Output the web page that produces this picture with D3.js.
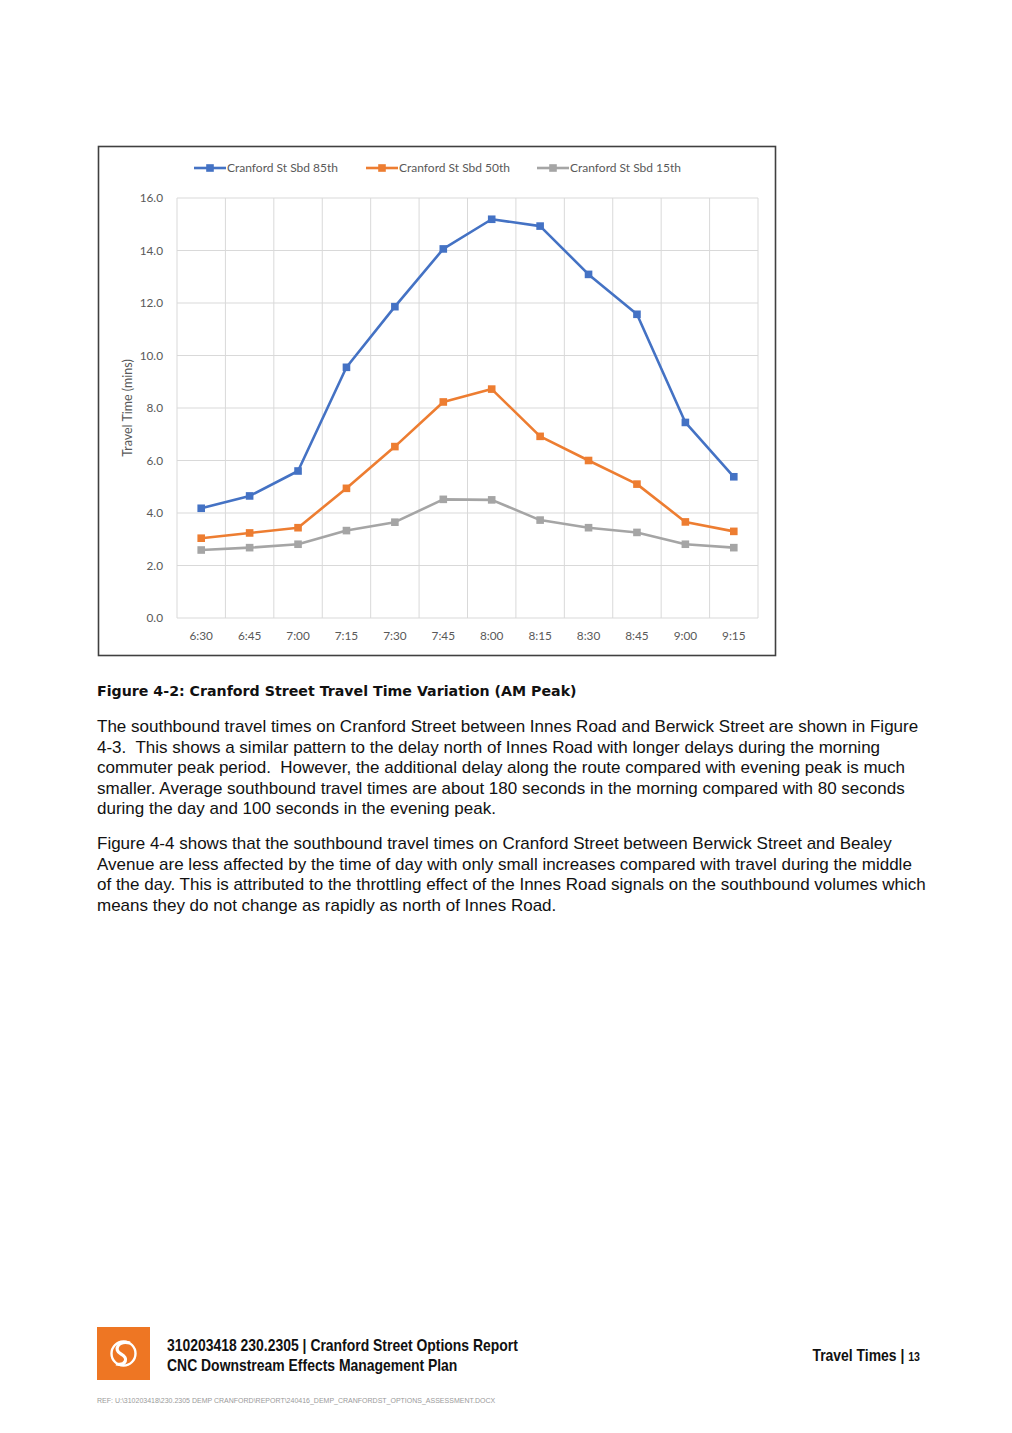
<!DOCTYPE html>
<html>
<head>
<meta charset="utf-8">
<script src="https://cdn.jsdelivr.net/npm/d3@7"></script>
<style>
body { margin: 0; background: #fff; }
svg { display: block; }
</style>
</head>
<body>
<svg id="page"></svg>
<script>
// chart data
var times = ["6:30","6:45","7:00","7:15","7:30","7:45","8:00","8:15","8:30","8:45","9:00","9:15"];
var sbd85 = [4.18, 4.65, 5.60, 9.55, 11.86, 14.06, 15.19, 14.93, 13.09, 11.57, 7.45, 5.38];
var sbd50 = [3.04, 3.24, 3.44, 4.94, 6.53, 8.23, 8.72, 6.92, 6.00, 5.10, 3.66, 3.30];
var sbd15 = [2.59, 2.68, 2.81, 3.33, 3.65, 4.52, 4.50, 3.73, 3.44, 3.26, 2.81, 2.68];
var seriesNames = ["Cranford St Sbd 85th", "Cranford St Sbd 50th", "Cranford St Sbd 15th"];
var yTicks = [0, 2, 4, 6, 8, 10, 12, 14, 16];

var colors = ["#4472C4", "#ED7D31", "#A5A5A5"];
var series = [sbd85, sbd50, sbd15];

var W = 1012, H = 1433;
var svg = d3.select("#page").attr("width", W).attr("height", H);

// chart frame
svg.append("rect")
  .attr("x", 98.5).attr("y", 146.5)
  .attr("width", 677).attr("height", 509)
  .attr("fill", "#fff")
  .attr("stroke", "#404040")
  .attr("stroke-width", 1.6);

var plot = {left: 177, right: 758, top: 198, bottom: 618};

var x = d3.scaleBand()
  .domain(times)
  .range([plot.left, plot.right])
  .padding(0);

var y = d3.scaleLinear()
  .domain([0, 16])
  .range([plot.bottom, plot.top]);

// gridlines
svg.append("g")
  .selectAll("line")
  .data(yTicks)
  .enter().append("line")
  .attr("x1", plot.left).attr("x2", plot.right)
  .attr("y1", function(d) { return y(d); })
  .attr("y2", function(d) { return y(d); })
  .attr("stroke", "#d9d9d9")
  .attr("stroke-width", 1);

svg.append("g")
  .selectAll("line")
  .data(times.concat(["end"]))
  .enter().append("line")
  .attr("x1", function(d, i) { return i < times.length ? x(d) : plot.right; })
  .attr("x2", function(d, i) { return i < times.length ? x(d) : plot.right; })
  .attr("y1", plot.top).attr("y2", plot.bottom)
  .attr("stroke", "#d9d9d9")
  .attr("stroke-width", 1);

var chartFont = "Lato, 'Open Sans', sans-serif";

// y axis labels
var yAxis = svg.append("g")
  .attr("transform", "translate(" + (plot.left - 11) + ",0)")
  .call(d3.axisLeft(y).tickValues(yTicks).tickSize(0).tickFormat(d3.format(".1f")));
yAxis.select(".domain").remove();
yAxis.selectAll("text")
  .attr("fill", "#595959")
  .style("font-family", chartFont)
  .style("font-size", "11.8px");

// x axis labels
var xAxis = svg.append("g")
  .attr("transform", "translate(0," + (plot.bottom + 11) + ")")
  .call(d3.axisBottom(x).tickSize(0));
xAxis.select(".domain").remove();
xAxis.selectAll("text")
  .attr("fill", "#595959")
  .style("font-family", chartFont)
  .style("font-size", "11.8px");

// y axis title
svg.append("text")
  .attr("transform", "translate(132," + ((plot.top + plot.bottom) / 2) + ") rotate(-90)")
  .attr("text-anchor", "middle")
  .attr("fill", "#595959")
  .style("font-family", chartFont)
  .style("font-size", "12.5px")
  .text("Travel Time (mins)");

// lines and markers
var line = d3.line()
  .x(function(d, i) { return x(times[i]) + x.bandwidth() / 2; })
  .y(function(d) { return y(d); });

series.forEach(function(vals, s) {
  svg.append("path")
    .datum(vals)
    .attr("d", line)
    .attr("fill", "none")
    .attr("stroke", colors[s])
    .attr("stroke-width", 2.6)
    .attr("stroke-linejoin", "round");
  svg.append("g")
    .selectAll("rect")
    .data(vals)
    .enter().append("rect")
    .attr("x", function(d, i) { return x(times[i]) + x.bandwidth() / 2 - 3.8; })
    .attr("y", function(d) { return y(d) - 3.8; })
    .attr("width", 7.6).attr("height", 7.6)
    .attr("fill", colors[s]);
});

// legend
var legendX = [194, 366, 537];
var legend = svg.append("g")
  .selectAll("g")
  .data(seriesNames)
  .enter().append("g")
  .attr("transform", function(d, i) { return "translate(" + legendX[i] + ",168)"; });
legend.append("line")
  .attr("x1", 0).attr("x2", 32)
  .attr("stroke", function(d, i) { return colors[i]; })
  .attr("stroke-width", 2.6);
legend.append("rect")
  .attr("x", 12.2).attr("y", -3.8)
  .attr("width", 7.6).attr("height", 7.6)
  .attr("fill", function(d, i) { return colors[i]; });
legend.append("text")
  .attr("x", 33).attr("y", 4.2)
  .attr("fill", "#595959")
  .style("font-family", chartFont)
  .style("font-size", "12px")
  .text(function(d) { return d; });

// caption
svg.append("text")
  .attr("x", 97).attr("y", 696)
  .attr("fill", "#111")
  .style("font-family", "'DejaVu Sans', sans-serif")
  .style("font-weight", "bold")
  .style("font-size", "14.2px")
  .text("Figure 4-2: Cranford Street Travel Time Variation (AM Peak)");

// body text
var para1 = [
  "The southbound travel times on Cranford Street between Innes Road and Berwick Street are shown in Figure",
  "4-3.  This shows a similar pattern to the delay north of Innes Road with longer delays during the morning",
  "commuter peak period.  However, the additional delay along the route compared with evening peak is much",
  "smaller. Average southbound travel times are about 180 seconds in the morning compared with 80 seconds",
  "during the day and 100 seconds in the evening peak."
];
var para2 = [
  "Figure 4-4 shows that the southbound travel times on Cranford Street between Berwick Street and Bealey",
  "Avenue are less affected by the time of day with only small increases compared with travel during the middle",
  "of the day. This is attributed to the throttling effect of the Innes Road signals on the southbound volumes which",
  "means they do not change as rapidly as north of Innes Road."
];
function paragraph(lines, y0) {
  svg.append("g")
    .selectAll("text")
    .data(lines)
    .enter().append("text")
    .attr("x", 97)
    .attr("y", function(d, i) { return y0 + i * 20.6; })
    .attr("fill", "#111")
    .style("white-space", "pre")
    .style("font-family", "'Liberation Sans', Arial, sans-serif")
    .style("font-size", "17px")
    .text(function(d) { return d; });
}
paragraph(para1, 732);
paragraph(para2, 849);

// footer
svg.append("rect")
  .attr("x", 97).attr("y", 1327)
  .attr("width", 53).attr("height", 53)
  .attr("fill", "#EE7623");
svg.append("circle")
  .attr("cx", 123.5).attr("cy", 1353.5).attr("r", 12)
  .attr("fill", "none").attr("stroke", "#fff").attr("stroke-width", 2.4);
svg.append("path")
  .attr("d", "M130,1343 C118,1340 113,1350 121,1354 C129,1358 126,1366 116,1364")
  .attr("fill", "none").attr("stroke", "#fff").attr("stroke-width", 3.2);

var footFont = "'Liberation Sans', Arial, sans-serif";
function narrow(x0, y0) {
  return "translate(" + x0 + "," + y0 + ") scale(0.845,1)";
}
svg.append("text")
  .attr("transform", narrow(167, 1351))
  .attr("fill", "#111")
  .style("font-family", footFont).style("font-weight", "bold").style("font-size", "16.5px")
  .text("310203418 230.2305 | Cranford Street Options Report");
svg.append("text")
  .attr("transform", narrow(167, 1371))
  .attr("fill", "#111")
  .style("font-family", footFont).style("font-weight", "bold").style("font-size", "16.5px")
  .text("CNC Downstream Effects Management Plan");
svg.append("text")
  .attr("transform", narrow(920, 1361))
  .attr("text-anchor", "end")
  .attr("fill", "#111")
  .style("font-family", footFont).style("font-weight", "bold")
  .html("<tspan style='font-size:16.5px'>Travel Times | </tspan><tspan style='font-size:12.5px'>13</tspan>");
svg.append("text")
  .attr("x", 97).attr("y", 1403)
  .attr("fill", "#9a9a9a")
  .style("font-family", footFont).style("font-size", "7px")
  .text("REF:  U:\\310203418\\230.2305 DEMP CRANFORD\\REPORT\\240416_DEMP_CRANFORDST_OPTIONS_ASSESSMENT.DOCX");
</script>
</body>
</html>
